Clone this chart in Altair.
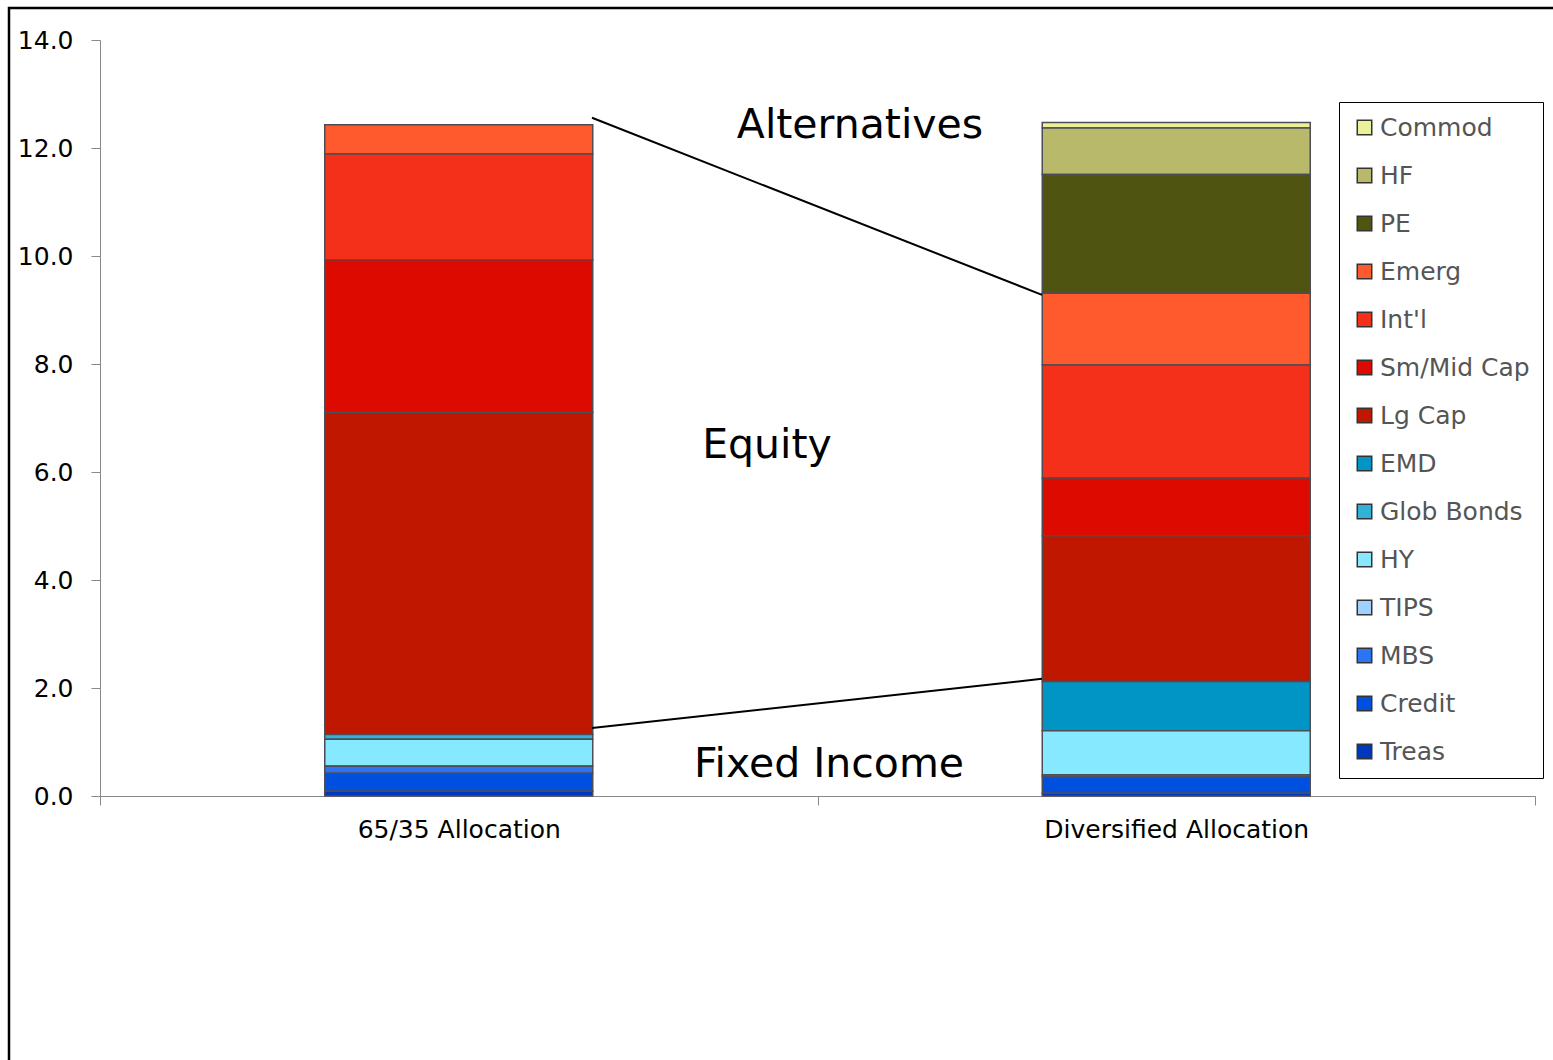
import altair as alt
import pandas as pd

allocations = ["65/35 Allocation", "Diversified Allocation"]
# legend order, top to bottom
assets = ["Commod", "HF", "PE", "Emerg", "Int'l", "Sm/Mid Cap", "Lg Cap",
          "EMD", "Glob Bonds", "HY", "TIPS", "MBS", "Credit", "Treas"]
colors = ["#EDF09A", "#B8B96A", "#4F5410", "#FF5A2D", "#F42F1A", "#DD0A00", "#C01700",
          "#0095C5", "#2FB3D8", "#86E9FF", "#A0D0FF", "#2E72F5", "#0050E0", "#0037BF"]

vals_6535 = [0.0, 0.0, 0.0, 0.54, 1.96, 2.83, 5.96,
             0.0, 0.09, 0.50, 0.0, 0.13, 0.33, 0.09]
vals_div = [0.10, 0.86, 2.20, 1.33, 2.09, 1.07, 2.70,
            0.91, 0.0, 0.82, 0.0, 0.04, 0.30, 0.05]

ann_labels = ["Alternatives", "Equity", "Fixed Income"]
ann_y = [12.41, 6.48, 0.57]
ann_xpx = [760, 667, 729]

conn_y1 = [12.56, 1.26]
conn_y2 = [9.28, 2.17]

rows = []
n = len(assets)
for i, a in enumerate(assets):
    rows.append({"alloc": allocations[0], "asset": a, "value": vals_6535[i], "ord": n - i})
    rows.append({"alloc": allocations[1], "asset": a, "value": vals_div[i], "ord": n - i})
df = pd.DataFrame(rows)

FONT = "DejaVu Sans"

bars = alt.Chart(df).mark_bar(width=268, stroke="#4D4D55", strokeWidth=1.5).encode(
    x=alt.X("alloc:N", sort=allocations, title=None,
            scale=alt.Scale(paddingInner=0, paddingOuter=0),
            axis=alt.Axis(labelAngle=0, labelFontSize=25, labelColor="black", labelFont=FONT,
                          tickBand="extent", tickSize=9, tickColor="#888888",
                          domainColor="#888888", labelPadding=12, labelLimit=1000)),
    y=alt.Y("value:Q", stack="zero", title=None,
            scale=alt.Scale(domain=[0, 14], nice=False),
            axis=alt.Axis(values=[0, 2, 4, 6, 8, 10, 12, 14], format=".1f", grid=False,
                          labelFontSize=25, labelColor="black", labelFont=FONT,
                          tickSize=9, tickColor="#888888", domainColor="#888888",
                          labelPadding=18)),
    color=alt.Color("asset:N", title=None,
                    scale=alt.Scale(domain=assets, range=colors),
                    legend=alt.Legend(orient="none", legendX=1239, legendY=62,
                                      symbolType="square", symbolSize=210,
                                      symbolStrokeColor="#333333", symbolStrokeWidth=1.5,
                                      labelFontSize=25, labelFont=FONT, labelColor="#555555",
                                      labelOffset=3, rowPadding=22, padding=13,
                                      strokeColor="black", labelLimit=400)),
    order=alt.Order("ord:Q", sort="ascending"),
)

conn_df = pd.DataFrame({"y1": conn_y1, "y2": conn_y2})
connectors = alt.Chart(conn_df).mark_rule(color="black", strokeWidth=2).encode(
    x=alt.value(492), x2=alt.value(942), y="y1:Q", y2="y2:Q"
)

texts = []
for lab, yv, xp in zip(ann_labels, ann_y, ann_xpx):
    t = alt.Chart(pd.DataFrame({"label": [lab], "y": [yv]})).mark_text(
        fontSize=41, font=FONT, color="black", align="center", baseline="middle"
    ).encode(x=alt.value(xp), y="y:Q", text="label:N")
    texts.append(t)

frame = alt.Chart(pd.DataFrame({"k": [0]})).mark_rect(
    fill=None, stroke="black", strokeWidth=2.5
).encode(x=alt.value(-91), x2=alt.value(1500), y=alt.value(-32), y2=alt.value(1050))

chart = alt.layer(frame, bars, connectors, *texts).properties(
    width=1435, height=756,
    autosize=alt.AutoSizeParams(type="none"),
    padding={"left": 100, "top": 40, "right": 18, "bottom": 264},
    background="white",
).configure_view(strokeWidth=0, stroke="transparent")

chart.save("out.html", embed_options={"renderer": "svg", "actions": False})
